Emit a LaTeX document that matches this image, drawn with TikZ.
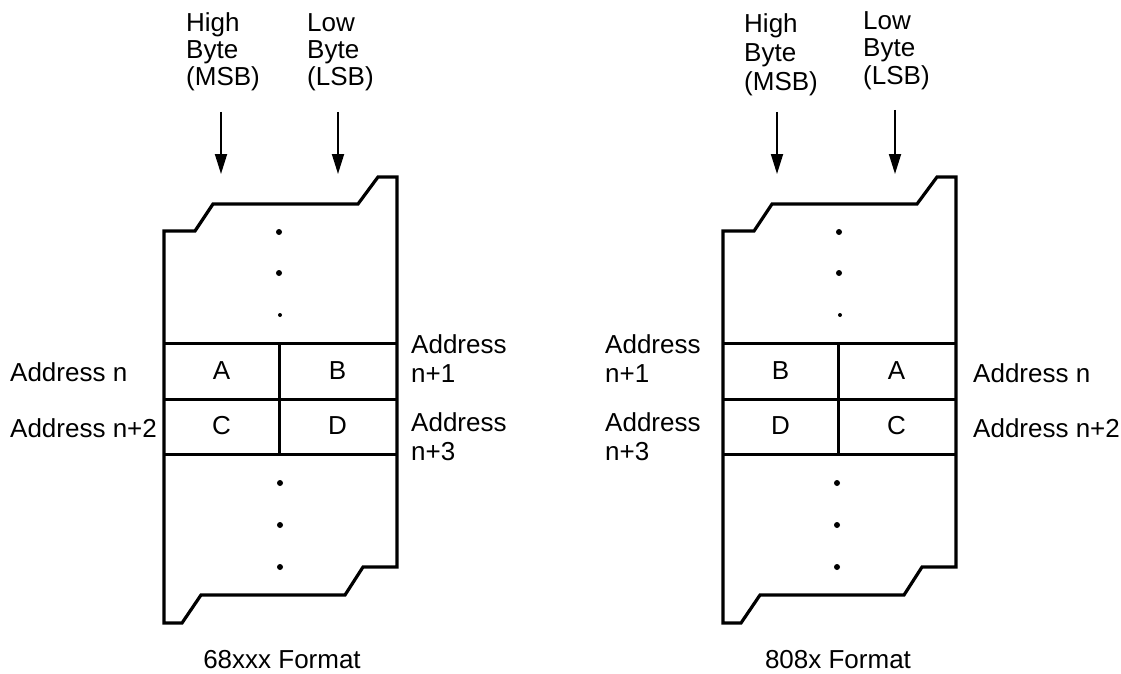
\documentclass[tikz,border=0pt]{standalone}
\usepackage{fontspec}
\setmainfont{Liberation Sans}
\usetikzlibrary{arrows.meta}
\tikzset{
  memframe/.style={line width=3.2pt, line join=miter},
  rule/.style={line width=3pt},
  lbl/.style={font=\fontsize{26}{28}\selectfont, inner sep=0pt, anchor=base west},
  cell/.style={font=\fontsize{26}{28}\selectfont, inner sep=0pt, anchor=center},
  capt/.style={font=\fontsize{26}{28}\selectfont, inner sep=0pt, anchor=base},
  ptr/.style={line width=1.8pt, -{Triangle[length=20pt,width=12pt]}},
  bigdot/.style={circle, fill, inner sep=0pt, minimum size=6pt},
  smalldot/.style={circle, fill, inner sep=0pt, minimum size=4pt},
  pics/memory/.style={code={
    \draw[memframe] (0,231) -- (31,231) -- (49,204) -- (194,204) -- (214,177) -- (233,177)
      -- (233,567) -- (199,567) -- (181,595) -- (37,595) -- (18,623) -- (0,623) -- cycle;
    \draw[rule] (0,343) -- (233,343);
    \draw[rule] (0,399) -- (233,399);
    \draw[rule] (0,454) -- (233,454);
    \draw[rule] (115,343) -- (115,454);
  }}
}
\begin{document}
\begin{tikzpicture}[x=1pt,y=-1pt]
\useasboundingbox (0,0) rectangle (1121,674);

% ---------- left: 68xxx ----------
\pic at (164,0) {memory};
\node[lbl] (lh1) at (186,32) {High};
\node[lbl] (lh2) at (186,59) {Byte};
\node[lbl] (lh3) at (186,86) {(MSB)};
\node[lbl] (ll1) at (307,32) {Low};
\node[lbl] (ll2) at (307,59) {Byte};
\node[lbl] (ll3) at (307,86) {(LSB)};
\coordinate (lhs) at (221,112); \coordinate (lht) at (221,174);
\coordinate (lls) at (338,112); \coordinate (llt) at (338,174);
\draw[ptr] (lhs) -- (lht);
\draw[ptr] (lls) -- (llt);

\node[bigdot] (ld1) at (279,232) {};
\node[bigdot] (ld2) at (279,273) {};
\node[smalldot] (ld3) at (280,315) {};
\node[bigdot] (ld4) at (280,483) {};
\node[bigdot] (ld5) at (280,525) {};
\node[bigdot] (ld6) at (280,567) {};

\node[cell] (lA) at (221.5,371) {A};
\node[cell] (lB) at (337.5,371) {B};
\node[cell] (lC) at (221.5,426) {C};
\node[cell] (lD) at (337.5,426) {D};

\node[lbl] (la0) at (10,381) {Address n};
\node[lbl] (la2) at (10,437) {Address n+2};
\node[lbl] (la1a) at (411,353) {Address};
\node[lbl] (la1b) at (411,382) {n+1};
\node[lbl] (la3a) at (411,431) {Address};
\node[lbl] (la3b) at (411,460) {n+3};

\node[capt] (lcap) at (282,668) {68xxx Format};

% ---------- right: 808x ----------
\pic at (723,0) {memory};
\node[lbl] (rh1) at (744,33) {High};
\node[lbl] (rh2) at (744,62) {Byte};
\node[lbl] (rh3) at (744,91) {(MSB)};
\node[lbl] (rl1) at (863,30) {Low};
\node[lbl] (rl2) at (863,57) {Byte};
\node[lbl] (rl3) at (863,85) {(LSB)};
\coordinate (rhs) at (777,112); \coordinate (rht) at (777,174);
\coordinate (rls) at (895,110); \coordinate (rlt) at (895,174);
\draw[ptr] (rhs) -- (rht);
\draw[ptr] (rls) -- (rlt);

\node[bigdot] (rd1) at (839,232) {};
\node[bigdot] (rd2) at (839,273) {};
\node[smalldot] (rd3) at (840,315) {};
\node[bigdot] (rd4) at (837,483) {};
\node[bigdot] (rd5) at (837,525) {};
\node[bigdot] (rd6) at (837,567) {};

\node[cell] (rB) at (780.5,371) {B};
\node[cell] (rA) at (896.5,371) {A};
\node[cell] (rD) at (780.5,426) {D};
\node[cell] (rC) at (896.5,426) {C};

\node[lbl] (ra1a) at (605,353) {Address};
\node[lbl] (ra1b) at (605,382) {n+1};
\node[lbl] (ra3a) at (605,431) {Address};
\node[lbl] (ra3b) at (605,460) {n+3};
\node[lbl] (ra0) at (973,382) {Address n};
\node[lbl] (ra2) at (973,437) {Address n+2};

\node[capt] (rcap) at (838,668) {808x Format};
\end{tikzpicture}
\end{document}
